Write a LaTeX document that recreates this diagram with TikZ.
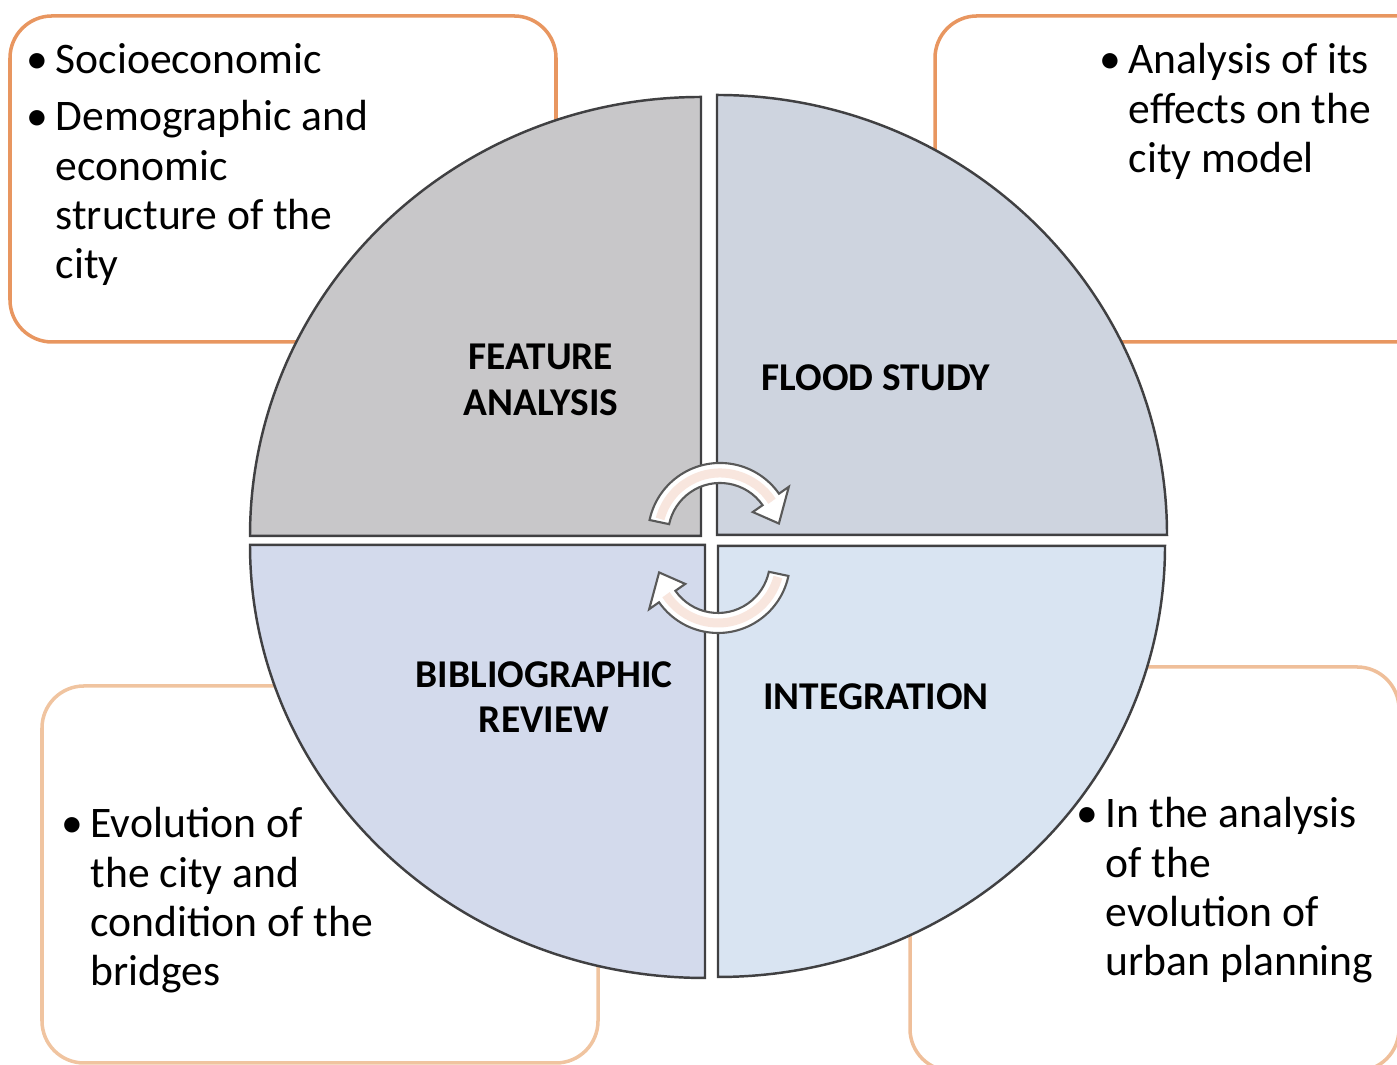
\documentclass[tikz,border=0pt]{standalone}
\usepackage{fontspec}
\setmainfont{Carlito}
\usetikzlibrary{calc}
\definecolor{boxorange}{RGB}{232,150,96}
\definecolor{boxpeach}{RGB}{240,196,160}
\definecolor{quadline}{RGB}{64,64,66}
\definecolor{featfill}{RGB}{200,199,201}
\definecolor{floodfill}{RGB}{206,212,223}
\definecolor{bibfill}{RGB}{211,218,236}
\definecolor{integfill}{RGB}{217,228,242}
\definecolor{blush}{RGB}{248,230,222}

\tikzset{
    note/.style={line width=1pt, rounded corners=0.42cm},
    quad/.style={draw=quadline, line width=0.7pt},
    phase/.style={font=\fontsize{11.2}{13}\selectfont\bfseries, align=center, inner sep=0pt},
    bullets/.style={font=\fontsize{12.4}{14}\selectfont, anchor=base west, inner sep=0pt},
    cyc/.style={draw=black!65, fill=white, line width=0.6pt, line join=miter},
    band/.style={blush, line width=0.09cm}
}

\begin{document}
\begin{tikzpicture}[x=0.01cm, y=0.01cm]
    \useasboundingbox (0,0) rectangle (1397,1065);
    \clip (0,0) rectangle (1397,1065);

    % outer boxes
    \draw[note, draw=boxorange] (10,723) rectangle (556,1049);
    \draw[note, draw=boxorange] (935,723) rectangle (1440,1049);
    \draw[note, draw=boxpeach] (42,2) rectangle (598,379);
    \draw[note, draw=boxpeach!90!boxorange] (910,-6) rectangle (1399,398);

    % corners of the four quarters
    \coordinate (qTL) at (701,529);
    \coordinate (qTR) at (717,530);
    \coordinate (qBL) at (705,520);
    \coordinate (qBR) at (718,519);

    \draw[quad, fill=featfill] (qTL) -- ++(-451,0)
        arc[start angle=180, end angle=90, x radius=451, y radius=439] -- cycle;
    \draw[quad, fill=floodfill] (qTR) -- ++(0,440)
        arc[start angle=90, end angle=0, x radius=450, y radius=440] -- cycle;
    \draw[quad, fill=bibfill] (qBL) -- ++(-455,0)
        arc[start angle=180, end angle=270, x radius=455, y radius=433] -- cycle;
    \draw[quad, fill=integfill] (qBR) -- ++(447,0)
        arc[start angle=0, end angle=-90, x radius=447, y radius=431] -- cycle;

    % turning arrows in the middle
    \coordinate (cA) at (720,530);
    \coordinate (cB) at (718,504);
    \draw[cyc] ($(cA)+(168:72)$) arc[start angle=168, end angle=35, radius=72]
        -- ($(cA)+(35:84)$) -- ($(cA)+(11:60)$) -- ($(cA)+(35:40)$)
        -- ($(cA)+(35:52)$) arc[start angle=35, end angle=168, radius=52] -- cycle;
    \draw[band] ($(cA)+(165:62)$) arc[start angle=165, end angle=33, radius=62];
    \draw[cyc] ($(cB)+(-12:72)$) arc[start angle=-12, end angle=-145, radius=72]
        -- ($(cB)+(-145:84)$) -- ($(cB)+(-169:60)$) -- ($(cB)+(-145:40)$)
        -- ($(cB)+(-145:52)$) arc[start angle=-145, end angle=-12, radius=52] -- cycle;
    \draw[band] ($(cB)+(-15:62)$) arc[start angle=-15, end angle=-147, radius=62];

    % quarter labels
    \node[phase] (feat) at (541,685) {FEATURE\\ANALYSIS};
    \node[phase] (flood) at (876,687) {FLOOD STUDY};
    \node[phase] (bib) at (544,368) {BIBLIOGRAPHIC\\REVIEW};
    \node[phase] (integ) at (876,368) {INTEGRATION};

    % notes
    \node[bullets] (featnote) at (55,991) {\begin{tabular}[t]{@{}l@{}}
        \llap{\textbullet\hspace{2pt}}Socioeconomic\\[2.2pt]
        \llap{\textbullet\hspace{2pt}}Demographic and\\
        economic\\
        structure of the\\
        city
    \end{tabular}};
    \node[bullets] (floodnote) at (1128,991) {\begin{tabular}[t]{@{}l@{}}
        \llap{\textbullet\hspace{2pt}}Analysis of its\\
        effects on the\\
        city model
    \end{tabular}};
    \node[bullets] (bibnote) at (90,227) {\begin{tabular}[t]{@{}l@{}}
        \llap{\textbullet\hspace{2pt}}Evolution of\\
        the city and\\
        condition of the\\
        bridges
    \end{tabular}};
    \node[bullets] (integnote) at (1105,237) {\begin{tabular}[t]{@{}l@{}}
        \llap{\textbullet\hspace{2pt}}In the analysis\\
        of the\\
        evolution of\\
        urban planning
    \end{tabular}};
\end{tikzpicture}
\end{document}
